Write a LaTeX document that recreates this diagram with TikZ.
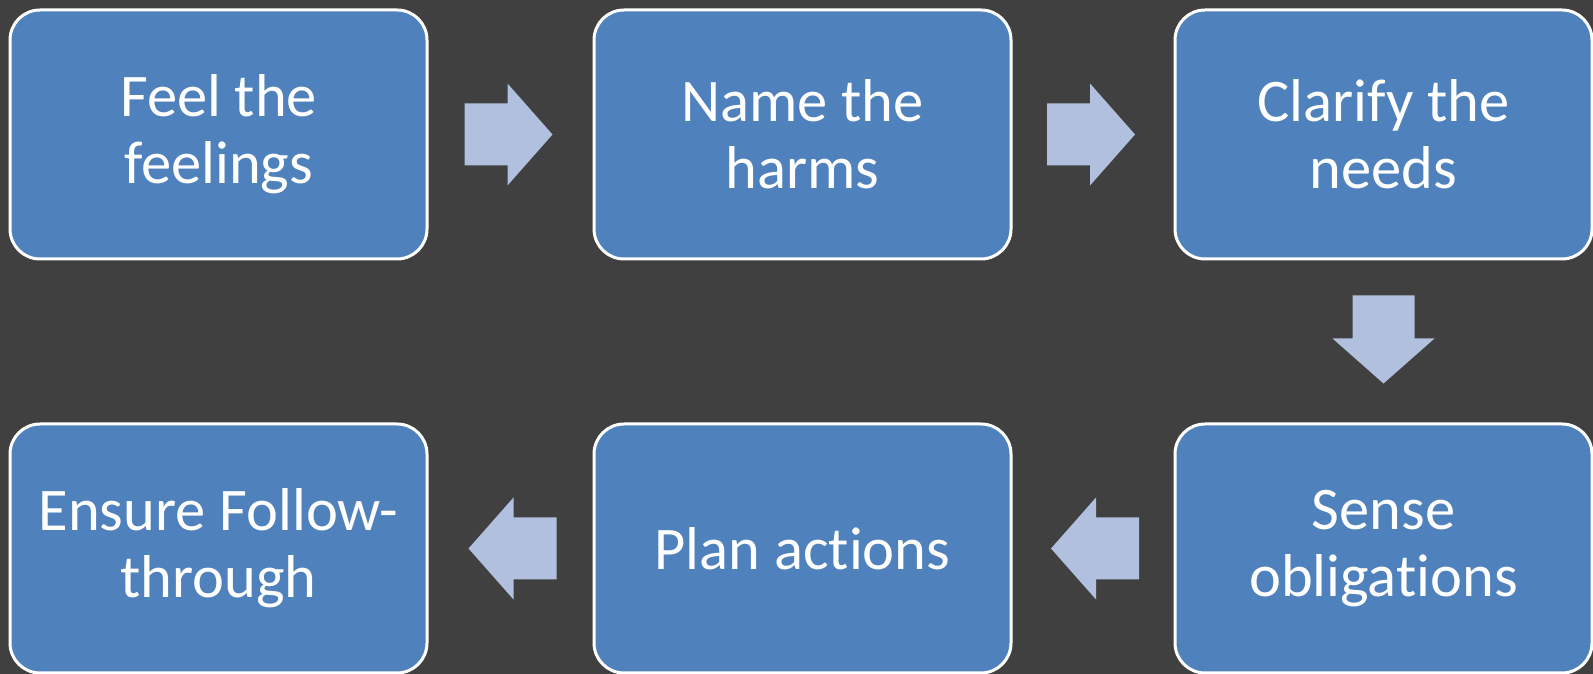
\documentclass[tikz,border=0pt]{standalone}
\usepackage{fontspec}
\setmainfont[Ligatures=NoCommon]{Carlito}
\usetikzlibrary{calc}
\definecolor{bgdark}{HTML}{404040}
\definecolor{boxblue}{HTML}{4F81BD}
\definecolor{arrowblue}{HTML}{B0C0DE}
\tikzset{
  stepbox/.style={draw=white, line width=3pt, fill=boxblue, rounded corners=30pt,
    minimum width=417pt, minimum height=249pt, inner sep=0pt,
    text=white, align=center, font=\fontsize{60.5}{67}\selectfont},
  flowarrow/.style={fill=arrowblue}
}
% block arrow placed at #1, turned by #2 degrees
\newcommand\blockarrow[2]{%
  \fill[flowarrow, shift={#1}, rotate=#2]
    (-46,-31) -- (-3,-31) -- (-3,-51) -- (42,0) -- (-3,51) -- (-3,31) -- (-46,31) -- cycle;}
\begin{document}
\begin{tikzpicture}[x=1pt,y=1pt]
  \useasboundingbox (0,0) rectangle (1593,674);
  \fill[bgdark] (0,0) rectangle (1593,674);
  \clip (0,0) rectangle (1593,674);

  \node[stepbox] (feel)    at (218.5,539.5)  {Feel the\\feelings};
  \node[stepbox] (name)    at (802.5,539.5)  {Name the\\harms};
  \node[stepbox] (clarify) at (1383.5,539.5) {Clarify the\\needs};
  \node[stepbox] (sense)   at (1383.5,125.5) {Sense\\obligations};
  \node[stepbox] (plan)    at (802.5,125.5)  {Plan actions};
  \node[stepbox] (ensure)  at (218.5,125.5)  {Ensure Follow-\\through};

  \blockarrow{($(feel.east)!0.5!(name.west)$)}{0}
  \blockarrow{($(name.east)!0.5!(clarify.west)$)}{0}
  \blockarrow{($(clarify.south)!0.5!(sense.north)$)}{-90}
  \blockarrow{($(sense.west)!0.5!(plan.east)$)}{180}
  \blockarrow{($(plan.west)!0.5!(ensure.east)$)}{180}
\end{tikzpicture}
\end{document}
